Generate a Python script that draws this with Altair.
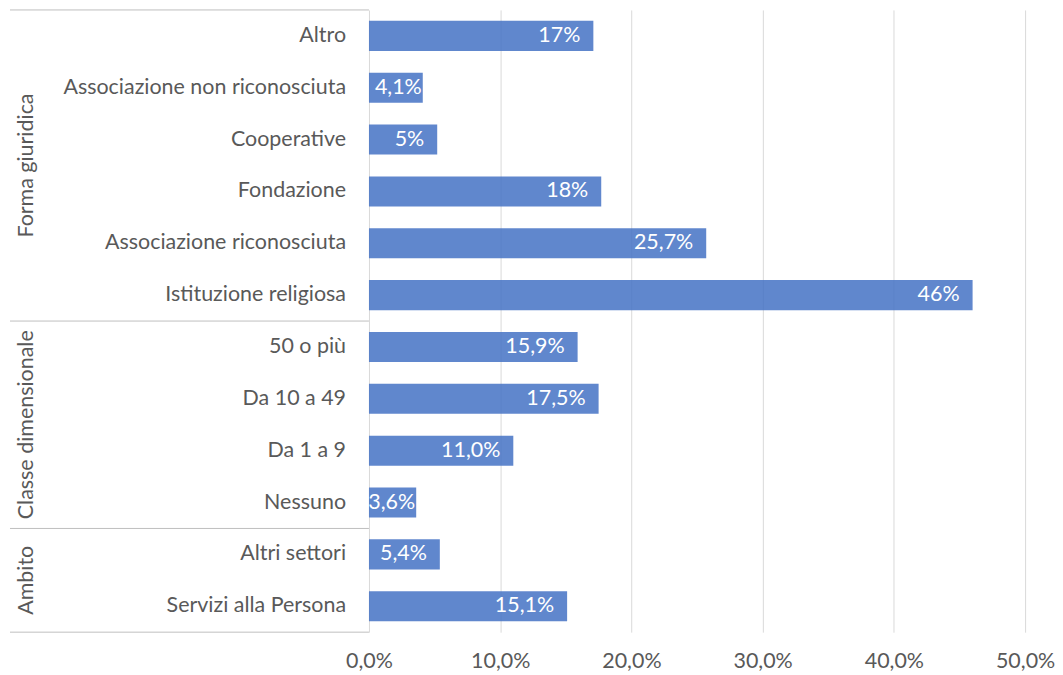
import altair as alt
import pandas as pd

categories = ["Altro", "Associazione non riconosciuta", "Cooperative", "Fondazione",
              "Associazione riconosciuta", "Istituzione religiosa",
              "50 o più", "Da 10 a 49", "Da 1 a 9", "Nessuno",
              "Altri settori", "Servizi alla Persona"]
groups = ["Forma giuridica"] * 6 + ["Classe dimensionale"] * 4 + ["Ambito"] * 2
values = [0.171, 0.041, 0.052, 0.177, 0.257, 0.46,
          0.159, 0.175, 0.110, 0.036,
          0.054, 0.151]
labels = ["17%", "4,1%", "5%", "18%", "25,7%", "46%",
          "15,9%", "17,5%", "11,0%", "3,6%",
          "5,4%", "15,1%"]
x_ticks = [0, 0.1, 0.2, 0.3, 0.4, 0.5]

FONT = "Lato"
FS = 21.5
GRAY = "#595959"
LINE = "#BFBFBF"

df = pd.DataFrame({"cat": categories, "group": groups, "value": values, "label": labels})
first = df.groupby("group", sort=False).head(1)
last = df.tail(1)
anchors = []
for g in dict.fromkeys(groups):
    cats = [c for c, gg in zip(categories, groups) if gg == g]
    anchors.append({"group": g, "cat": cats[len(cats) // 2]})
anchors = pd.DataFrame(anchors)

ysc = alt.Scale(domain=categories, paddingInner=0, paddingOuter=0)
LW, RW, H = 362, 658, 624


def ypos(bp=None, axis=None):
    kw = {}
    if bp is not None:
        kw["bandPosition"] = bp
    return alt.Y("cat:N", scale=ysc, axis=axis, title=None, **kw)


# ---- left panel: category labels, group labels, separators
cat_text = alt.Chart(df).mark_text(
    align="right", baseline="middle", font=FONT, fontSize=FS, color=GRAY
).encode(y=ypos(), x=alt.value(LW - 23), text="cat:N")

group_text = alt.Chart(anchors).mark_text(
    angle=270, align="center", baseline="middle", font=FONT, fontSize=FS, color=GRAY
).encode(y=ypos(0), x=alt.value(19), text="group:N")

sep = alt.Chart(first).mark_rule(color=LINE, strokeWidth=1).encode(
    y=ypos(0), x=alt.value(2), x2=alt.value(LW))
bottom = alt.Chart(last).mark_rule(color=LINE, strokeWidth=1).encode(
    y=ypos(1), x=alt.value(2), x2=alt.value(LW))

left = alt.layer(sep, bottom, cat_text, group_text).properties(width=LW, height=H)

# ---- right panel: bars
xsc = alt.Scale(domain=[0, 0.5], nice=False)
xaxis = alt.Axis(values=x_ticks, labelExpr="replace(format(datum.value, '.1%'), '.', ',')",
                 grid=True, gridColor="#D9D9D9", domain=False, ticks=False, labelFlush=False,
                 labelPadding=18, labelFontSize=FS, labelColor=GRAY, labelFont=FONT,
                 title=None)
yaxis = alt.Axis(labels=False, ticks=False, domain=True, domainColor=LINE, grid=False, title=None)

bars = alt.Chart(df).mark_bar(color="#4472C4", opacity=0.85, height={"band": 0.58}).encode(
    y=ypos(axis=yaxis), x=alt.X("value:Q", scale=xsc, axis=xaxis, title=None))

big = alt.Chart(df).transform_filter("datum.value >= 0.045").mark_text(
    align="right", baseline="middle", dx=-13, color="white", font=FONT, fontSize=FS
).encode(y=ypos(), x=alt.X("value:Q", scale=xsc), text="label:N")

small = alt.Chart(df).transform_filter("datum.value < 0.045").mark_text(
    align="right", baseline="middle", dx=-1, color="white", font=FONT, fontSize=FS
).encode(y=ypos(), x=alt.X("value:Q", scale=xsc), text="label:N")

right = alt.layer(bars, big, small).properties(width=RW, height=H)

chart = alt.hconcat(left, right, spacing=0, bounds="flush").resolve_scale(y="shared").configure_view(
    strokeWidth=0).properties(padding={"left": 0, "top": 0, "right": 0, "bottom": 0})

chart.save("out.html", embed_options={"renderer": "svg", "actions": False})
